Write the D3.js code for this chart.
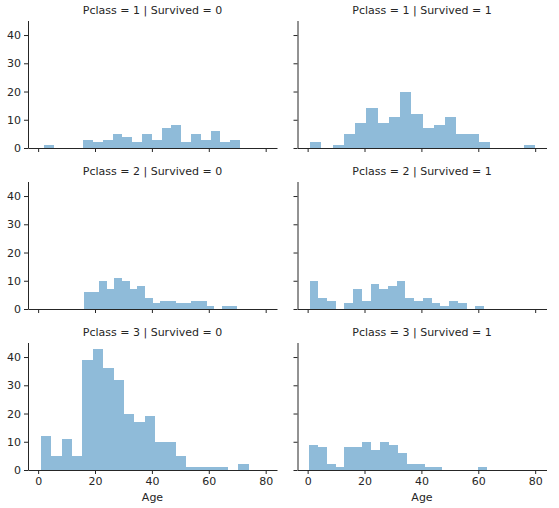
<!DOCTYPE html>
<html>
<head>
<meta charset="utf-8">
<script src="https://cdn.jsdelivr.net/npm/d3@7"></script>
<style>
  body { margin: 0; background: #fff; }
  svg text { font-family: "DejaVu Sans", sans-serif; fill: #262626; }
  .axis path, .axis line { stroke: #262626; stroke-width: 1; }
  .axis text { font-size: 11px; }
</style>
</head>
<body>
<div id="plot"></div>
<script>
// Facets: rows = Pclass, columns = Survived
var pclasses = [1, 2, 3];
var survived = [0, 1];

// Age range of each facet (histogram spans min..max in 20 bins)
var ageMin = [[2, 0.92], [16, 0.67], [1, 0.42]];
var ageMax = [[71, 80], [70, 62], [74, 63]];

// Counts per bin
var countsP1S0 = [1, 0, 0, 0, 3, 2, 3, 5, 4, 2, 5, 3, 7, 8, 2, 5, 3, 6, 2, 3];
var countsP1S1 = [2, 0, 1, 5, 9, 14, 9, 11, 20, 12, 7, 8, 11, 5, 5, 2, 0, 0, 0, 1];
var countsP2S0 = [6, 6, 10, 7, 11, 10, 7, 8, 4, 2, 3, 3, 2, 2, 3, 3, 1, 0, 1, 1];
var countsP2S1 = [10, 4, 3, 0, 2, 7, 3, 9, 7, 8, 10, 4, 3, 4, 2, 1, 3, 2, 0, 1];
var countsP3S0 = [12, 5, 11, 5, 39, 43, 36, 32, 20, 17, 19, 10, 10, 5, 1, 1, 1, 1, 0, 2];
var countsP3S1 = [9, 8, 2, 1, 8, 8, 10, 7, 10, 9, 6, 2, 2, 1, 1, 0, 0, 0, 0, 1];

var counts = [[countsP1S0, countsP1S1], [countsP2S0, countsP2S1], [countsP3S0, countsP3S1]];

var xTicks = [0, 20, 40, 60, 80];
var yTicks = [0, 10, 20, 30, 40];

var width = 559, height = 508;
var nBins = 20;

// panel placement
var colX = [[28, 277], [297.5, 546.5]];
var rowY = [[20.5, 148], [181.5, 309], [342.5, 470]];

var svg = d3.select("#plot")
     .append("svg")
     .attr("width", width)
     .attr("height", height);

pclasses.forEach(function(p, r) {
     survived.forEach(function(s, c) {
          var x = d3.scaleLinear().domain([-3.56, 83.98]).range(colX[c]);
          var y = d3.scaleLinear().domain([0, 45.15]).range([rowY[r][1], rowY[r][0]]);

          var lo = ageMin[r][c], hi = ageMax[r][c];
          var step = (hi - lo) / nBins;
          var bins = counts[r][c].map(function(n, i) {
               return {x0: lo + i * step, x1: lo + (i + 1) * step, n: n};
          });

          var g = svg.append("g");

          // bars
          g.selectAll("rect")
               .data(bins.filter(function(d) { return d.n > 0; }))
               .enter()
               .append("rect")
               .attr("x", function(d) { return x(d.x0); })
               .attr("width", function(d) { return x(d.x1) - x(d.x0); })
               .attr("y", function(d) { return y(d.n); })
               .attr("height", function(d) { return y(0) - y(d.n); })
               .attr("fill", "#8fbbd9")
               .attr("shape-rendering", "crispEdges");

          // y axis
          var ay = d3.axisLeft(y).tickValues(yTicks).tickSize(4).tickPadding(3).tickSizeOuter(0);
          if (c == 1) ay.tickFormat("");
          g.append("g")
               .attr("class", "axis")
               .attr("transform", "translate(" + colX[c][0] + ",0)")
               .call(ay);

          // x axis
          var ax = d3.axisBottom(x).tickValues(xTicks).tickSize(4).tickPadding(3).tickSizeOuter(0);
          if (r < 2) ax.tickFormat("");
          g.append("g")
               .attr("class", "axis")
               .attr("transform", "translate(0," + rowY[r][1] + ")")
               .call(ax);

          // facet title
          g.append("text")
               .attr("x", (colX[c][0] + colX[c][1]) / 2)
               .attr("y", rowY[r][0] - 7)
               .attr("text-anchor", "middle")
               .style("font-size", "11px")
               .text("Pclass = " + p + " | Survived = " + s);

          if (r == 2) {
               g.append("text")
                    .attr("x", (colX[c][0] + colX[c][1]) / 2)
                    .attr("y", 501)
                    .attr("text-anchor", "middle")
                    .style("font-size", "11px")
                    .text("Age");
          }
     });
});
</script>
</body>
</html>
